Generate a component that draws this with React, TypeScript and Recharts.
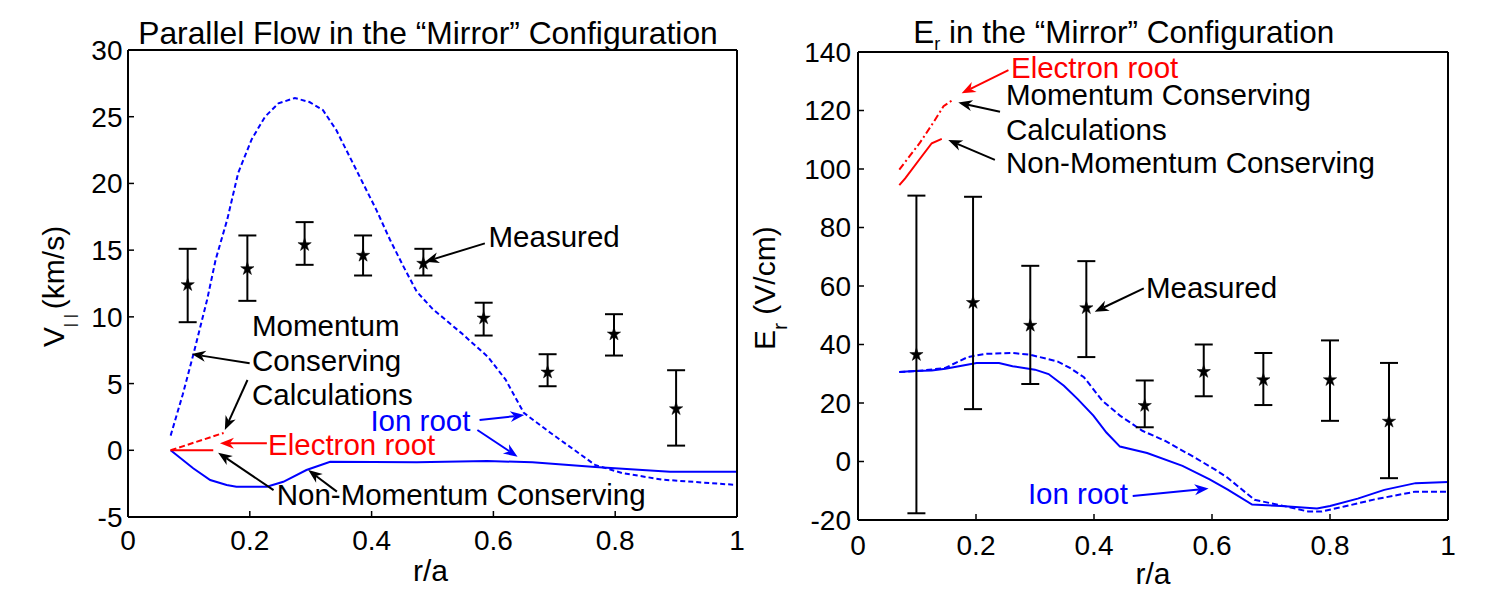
import React from 'react';
import {
  ComposedChart,
  Line,
  Scatter,
  ErrorBar,
  XAxis,
  YAxis,
  ReferenceLine,
  ReferenceDot,
  Customized,
  Symbols,
} from 'recharts';

const FONT = '"Liberation Sans", Arial, Helvetica, sans-serif';
const BLUE = '#0000ff';
const RED = '#ff0000';
const BLACK = '#000000';

// ---------- shared ticks ----------
const xTicks = [0, 0.2, 0.4, 0.6, 0.8, 1];
const leftYTicks = [-5, 0, 5, 10, 15, 20, 25, 30];
const rightYTicks = [-20, 0, 20, 40, 60, 80, 100, 120, 140];

// ---------- left panel: parallel flow (km/s) ----------
const vMeasR = [0.098, 0.196, 0.29, 0.386, 0.485, 0.584, 0.689, 0.798, 0.9];
const vMeasV = [12.4, 13.6, 15.4, 14.6, 14.0, 9.9, 5.85, 8.7, 3.1];
const vMeasLow = [9.6, 11.2, 13.9, 13.1, 13.1, 8.6, 4.8, 7.1, 0.35];
const vMeasHigh = [15.1, 16.1, 17.1, 16.1, 15.1, 11.06, 7.2, 10.2, 6.0];

const vIonMcR = [0.07, 0.09, 0.108, 0.13, 0.144, 0.163, 0.181, 0.203, 0.225, 0.247, 0.274, 0.298, 0.32, 0.342, 0.364, 0.386, 0.408, 0.43, 0.452, 0.474, 0.5, 0.547, 0.591, 0.62, 0.65, 0.694, 0.767, 0.811, 0.877, 1.0];
const vIonMcV = [1.1, 4.2, 7.3, 11.3, 14.3, 17.3, 20.8, 23.3, 25.0, 26.0, 26.4, 26.1, 25.5, 24.0, 22.0, 20.0, 18.0, 15.8, 13.8, 11.9, 10.6, 8.8, 7.0, 5.3, 2.8, 1.3, -1.1, -1.7, -2.2, -2.6];

const vIonNmcR = [0.07, 0.107, 0.135, 0.162, 0.178, 0.228, 0.255, 0.293, 0.332, 0.474, 0.59, 0.664, 0.767, 0.89, 1.0];
const vIonNmcV = [0, -1.35, -2.23, -2.6, -2.73, -2.73, -2.36, -1.48, -0.86, -0.9, -0.8, -0.9, -1.25, -1.6, -1.6];

const vElecMcR = [0.07, 0.157];
const vElecMcV = [0, 1.3];
const vElecNmcR = [0.07, 0.14];
const vElecNmcV = [0, 0];

// ---------- right panel: Er (V/cm) ----------
const eMeasR = [0.099, 0.195, 0.292, 0.387, 0.486, 0.586, 0.687, 0.8, 0.9];
const eMeasV = [36.5, 54.3, 46.5, 52.5, 19.1, 30.7, 27.9, 27.9, 13.7];
const eMeasLow = [-17.7, 17.9, 26.5, 35.7, 11.7, 22.3, 19.3, 13.9, -5.7];
const eMeasHigh = [90.9, 90.5, 66.9, 68.5, 27.7, 40.0, 37.1, 41.4, 33.7];

const eIonMcR = [0.07, 0.1, 0.148, 0.186, 0.216, 0.262, 0.292, 0.338, 0.36, 0.383, 0.414, 0.444, 0.482, 0.52, 0.566, 0.604, 0.626, 0.672, 0.717, 0.763, 0.786, 0.824, 0.877, 0.945, 1.0];
const eIonMcV = [30.6, 30.9, 32.0, 35.7, 36.8, 37.1, 36.5, 34.2, 31.9, 28.8, 20.8, 15.7, 10.5, 7.1, 1.9, -2.6, -5.5, -13.1, -15.0, -17.1, -17.1, -15.4, -12.9, -10.3, -10.3];

const eIonNmcR = [0.07, 0.095, 0.125, 0.148, 0.171, 0.201, 0.239, 0.262, 0.3, 0.323, 0.349, 0.372, 0.399, 0.421, 0.444, 0.49, 0.55, 0.596, 0.626, 0.668, 0.717, 0.778, 0.8, 0.847, 0.892, 0.945, 1.0];
const eIonNmcV = [30.6, 30.9, 31.1, 31.7, 32.6, 33.7, 33.7, 32.6, 31.4, 29.9, 25.9, 21.4, 15.7, 9.9, 5.1, 2.9, -1.5, -6.1, -9.5, -14.7, -15.2, -16.1, -15.2, -12.7, -9.7, -7.4, -7.0];

const eElecMcR = [0.07, 0.105, 0.128, 0.145, 0.162];
const eElecMcV = [99.8, 109.0, 116.0, 121.5, 123.8];
const eElecNmcR = [0.07, 0.08, 0.105, 0.125, 0.142];
const eElecNmcV = [94.5, 96.8, 103.5, 108.8, 110.3];

// ---------- annotations (data coordinates) ----------
const leftNotes = [
  { r: 0.592, v: 16.0, text: 'Measured', color: BLACK },
  { r: 0.2036, v: 9.39, text: 'Momentum', color: BLACK },
  { r: 0.2036, v: 6.77, text: 'Conserving', color: BLACK },
  { r: 0.2036, v: 4.18, text: 'Calculations', color: BLACK },
  { r: 0.398, v: 2.21, text: 'Ion root', color: BLUE },
  { r: 0.2299, v: 0.47, text: 'Electron root', color: RED },
  { r: 0.2442, v: -3.28, text: 'Non-Momentum Conserving', color: BLACK },
];
const leftArrows = [
  { r1: 0.586, v1: 15.51, r2: 0.4877, v2: 14.13, color: BLACK },
  { r1: 0.1998, v1: 6.52, r2: 0.1046, v2: 7.21, color: BLACK },
  { r1: 0.1962, v1: 5.27, r2: 0.159, v2: 1.52, color: BLACK },
  { r1: 0.5773, v1: 2.27, r2: 0.6507, v2: 2.64, color: BLUE },
  { r1: 0.5737, v1: 1.52, r2: 0.6397, v2: -0.48, color: BLUE },
  { r1: 0.228, v1: 0.52, r2: 0.151, v2: 0.52, color: RED },
  { r1: 0.239, v1: -2.98, r2: 0.148, v2: -0.18, color: BLACK },
  { r1: 0.343, v1: -3.1, r2: 0.296, v2: -1.48, color: BLACK },
];

const rightNotes = [
  { r: 0.2593, v: 134.9, text: 'Electron root', color: RED },
  { r: 0.2508, v: 125.6, text: 'Momentum Conserving', color: BLACK },
  { r: 0.2508, v: 113.7, text: 'Calculations', color: BLACK },
  { r: 0.2508, v: 102.4, text: 'Non-Momentum Conserving', color: BLACK },
  { r: 0.488, v: 59.65, text: 'Measured', color: BLACK },
  { r: 0.288, v: -10.8, text: 'Ion root', color: BLUE },
];
const rightArrows = [
  { r1: 0.255, v1: 133.8, r2: 0.1757, v2: 125.9, color: RED },
  { r1: 0.2407, v1: 119.6, r2: 0.17, v2: 122.7, color: BLACK },
  { r1: 0.232, v1: 103.1, r2: 0.153, v2: 109.9, color: BLACK },
  { r1: 0.4844, v1: 59.2, r2: 0.4012, v2: 51.2, color: BLACK },
  { r1: 0.4656, v1: -11.8, r2: 0.5942, v2: -9.2, color: BLUE },
];

// ---------- helpers ----------
const zip = (rs: number[], vs: number[]) => rs.map((r, i) => ({ r, v: vs[i] }));
const measured = (rs: number[], vs: number[], lo: number[], hi: number[]) =>
  rs.map((r, i) => ({ r, v: vs[i], err: [vs[i] - lo[i], hi[i] - vs[i]] }));

const NOTE_SIZE = 29.5;

const textShape = (text: string, color: string) => (p: any) => (
  <text
    x={p.cx}
    y={p.cy + NOTE_SIZE * 0.36}
    fill={color}
    fontSize={NOTE_SIZE}
    fontFamily={FONT}
  >
    {text}
  </text>
);

const arrowShape = (color: string) => (p: any) => {
  const { x1, y1, x2, y2 } = p;
  const dx = x2 - x1;
  const dy = y2 - y1;
  const len = Math.hypot(dx, dy) || 1;
  const ux = dx / len;
  const uy = dy / len;
  const L = 14;
  const W = 5.5;
  const bx = x2 - ux * L;
  const by = y2 - uy * L;
  const nx = -uy;
  const ny = ux;
  const mx = x2 - ux * L * 0.7;
  const my = y2 - uy * L * 0.7;
  const pts = `${x2},${y2} ${bx + nx * W},${by + ny * W} ${mx},${my} ${bx - nx * W},${by - ny * W}`;
  return (
    <g>
      <line x1={x1} y1={y1} x2={mx} y2={my} stroke={color} strokeWidth={2} />
      <polygon points={pts} fill={color} />
    </g>
  );
};

const starShape = (p: any) => (
  <Symbols type="star" cx={p.cx} cy={p.cy} size={55} fill={BLACK} stroke={BLACK} strokeWidth={0.5} />
);

const axisLine = { stroke: BLACK, strokeWidth: 2 };
const tickLine = { stroke: BLACK, strokeWidth: 1.5 };
const tickStyle = { fill: BLACK, fontSize: 28, fontFamily: FONT };

const LeftTexts = () => (
  <g fontFamily={FONT} fill={BLACK}>
    <text x={428} y={43.5} fontSize={31.8} textAnchor="middle">
      Parallel Flow in the “Mirror” Configuration
    </text>
    <text x={430.5} y={581} fontSize={30} textAnchor="middle">
      r/a
    </text>
    <text transform="translate(63.5,347) rotate(-90)" fontSize={30}>
      V
      <tspan fontSize={15} dy={11} letterSpacing={5}>
        ||
      </tspan>
      <tspan dy={-11}>(km/s)</tspan>
    </text>
  </g>
);

const RightTexts = () => (
  <g fontFamily={FONT} fill={BLACK}>
    <text x={173.3} y={42.7} fontSize={31.5}>
      E
      <tspan fontSize={18} dy={7}>
        r
      </tspan>
      <tspan dy={-7}> in the “Mirror” Configuration</tspan>
    </text>
    <text x={413} y={583.5} fontSize={30} textAnchor="middle">
      r/a
    </text>
    <text transform="translate(35,350) rotate(-90)" fontSize={30}>
      E
      <tspan fontSize={21} dy={12}>
        r
      </tspan>
      <tspan dy={-12}> (V/cm)</tspan>
    </text>
  </g>
);

function Panel(props: {
  width: number;
  margin: { top: number; right: number; bottom: number; left: number };
  yDomain: [number, number];
  yTicks: number[];
  yAxisWidth: number;
  yTickMargin: number;
  xTickMargin: number;
  children: React.ReactNode;
  texts: React.ReactElement;
}) {
  return (
    <ComposedChart width={props.width} height={606} margin={props.margin}>
      <XAxis
        xAxisId={0}
        dataKey="r"
        type="number"
        domain={[0, 1]}
        ticks={xTicks}
        interval={0}
        height={60}
        tickSize={-6}
        tickMargin={props.xTickMargin}
        axisLine={axisLine}
        tickLine={tickLine}
        tick={tickStyle}
        tickFormatter={(v: number) => String(v)}
        allowDataOverflow
      />
      <XAxis
        xAxisId="top"
        orientation="top"
        dataKey="r"
        type="number"
        domain={[0, 1]}
        ticks={xTicks}
        interval={0}
        height={1}
        tickSize={-6}
        axisLine={axisLine}
        tickLine={tickLine}
        tick={false}
        allowDataOverflow
      />
      <YAxis
        yAxisId={0}
        dataKey="v"
        type="number"
        domain={props.yDomain}
        ticks={props.yTicks}
        interval={0}
        width={props.yAxisWidth}
        tickSize={-6}
        tickMargin={props.yTickMargin}
        axisLine={axisLine}
        tickLine={tickLine}
        tick={tickStyle}
        allowDataOverflow
      />
      <YAxis
        yAxisId="right"
        orientation="right"
        dataKey="v"
        type="number"
        domain={props.yDomain}
        ticks={props.yTicks}
        interval={0}
        width={1}
        tickSize={-6}
        axisLine={axisLine}
        tickLine={tickLine}
        tick={false}
        allowDataOverflow
      />
      {props.children}
      <Customized component={props.texts} />
    </ComposedChart>
  );
}

const lineCommon = {
  dataKey: 'v',
  dot: false,
  activeDot: false,
  isAnimationActive: false,
  type: 'linear' as const,
  strokeWidth: 2,
};

export default function App() {
  return (
    <div
      style={{
        position: 'absolute',
        left: 0,
        top: 0,
        width: 1488,
        height: 606,
        background: '#fff',
        overflow: 'hidden',
      }}
    >
      <div style={{ position: 'absolute', left: 0, top: 0 }}>
        <Panel
          width={760}
          margin={{ top: 49, right: 22, bottom: 29, left: 68 }}
          yDomain={[-5, 30]}
          yTicks={leftYTicks}
          yAxisWidth={60}
          yTickMargin={11.5}
          xTickMargin={19}
          texts={<LeftTexts />}
        >
          <Line {...lineCommon} data={zip(vIonMcR, vIonMcV)} stroke={BLUE} strokeDasharray="5 3" />
          <Line {...lineCommon} data={zip(vIonNmcR, vIonNmcV)} stroke={BLUE} />
          <Line {...lineCommon} data={zip(vElecMcR, vElecMcV)} stroke={RED} strokeDasharray="6 3" />
          <Line {...lineCommon} data={zip(vElecNmcR, vElecNmcV)} stroke={RED} />
          <Scatter
            data={measured(vMeasR, vMeasV, vMeasLow, vMeasHigh)}
            dataKey="v"
            shape={starShape}
            isAnimationActive={false}
          >
            <ErrorBar dataKey="err" direction="y" width={9} stroke={BLACK} strokeWidth={2} isAnimationActive={false} />
          </Scatter>
          {leftArrows.map((a, i) => (
            <ReferenceLine
              key={'la' + i}
              segment={[
                { x: a.r1, y: a.v1 },
                { x: a.r2, y: a.v2 },
              ]}
              shape={arrowShape(a.color)}
            />
          ))}
          {leftNotes.map((n, i) => (
            <ReferenceDot key={'ln' + i} x={n.r} y={n.v} r={0} shape={textShape(n.text, n.color)} />
          ))}
        </Panel>
      </div>
      <div style={{ position: 'absolute', left: 740, top: 0 }}>
        <Panel
          width={748}
          margin={{ top: 51, right: 39, bottom: 26, left: 48 }}
          yDomain={[-20, 140]}
          yTicks={rightYTicks}
          yAxisWidth={70}
          yTickMargin={13}
          xTickMargin={21}
          texts={<RightTexts />}
        >
          <Line {...lineCommon} data={zip(eIonMcR, eIonMcV)} stroke={BLUE} strokeDasharray="6 3" />
          <Line {...lineCommon} data={zip(eIonNmcR, eIonNmcV)} stroke={BLUE} />
          <Line {...lineCommon} data={zip(eElecMcR, eElecMcV)} stroke={RED} strokeDasharray="7 3 2 3" />
          <Line {...lineCommon} data={zip(eElecNmcR, eElecNmcV)} stroke={RED} />
          <Scatter
            data={measured(eMeasR, eMeasV, eMeasLow, eMeasHigh)}
            dataKey="v"
            shape={starShape}
            isAnimationActive={false}
          >
            <ErrorBar dataKey="err" direction="y" width={9} stroke={BLACK} strokeWidth={2} isAnimationActive={false} />
          </Scatter>
          {rightArrows.map((a, i) => (
            <ReferenceLine
              key={'ra' + i}
              segment={[
                { x: a.r1, y: a.v1 },
                { x: a.r2, y: a.v2 },
              ]}
              shape={arrowShape(a.color)}
            />
          ))}
          {rightNotes.map((n, i) => (
            <ReferenceDot key={'rn' + i} x={n.r} y={n.v} r={0} shape={textShape(n.text, n.color)} />
          ))}
        </Panel>
      </div>
    </div>
  );
}
